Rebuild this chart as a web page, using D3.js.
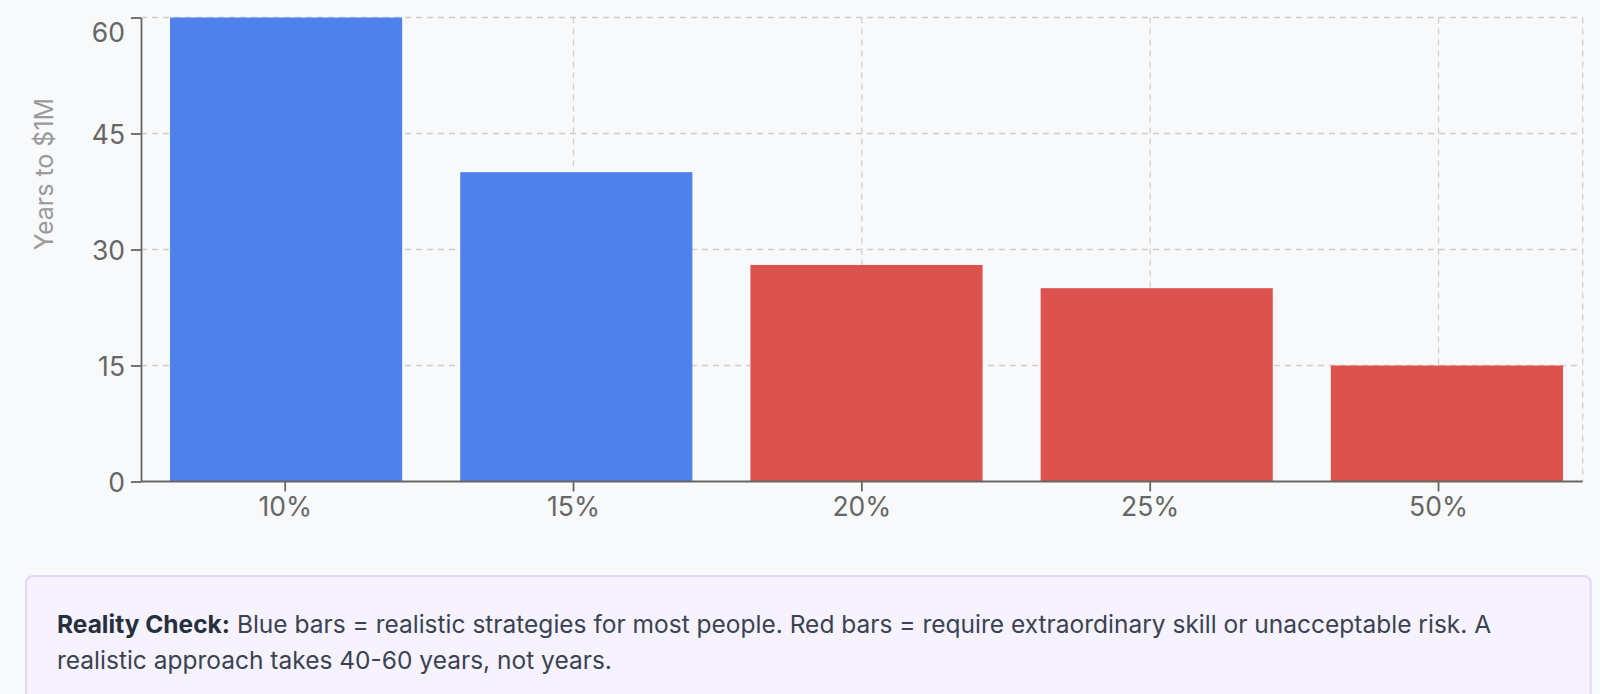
<!DOCTYPE html>
<html>
<head>
<meta charset="utf-8">
<script src="https://cdn.jsdelivr.net/npm/d3@7"></script>
<style>
  html, body { margin: 0; padding: 0; background: #f8f9fb; }
  svg { display: block; }
</style>
</head>
<body>
<svg id="chart" width="1600" height="694"></svg>
<script>
const categories = ["10%", "15%", "20%", "25%", "50%"];
const yearsToMillion = [60, 40, 28, 25, 15];
const realistic = [true, true, false, false, false];
const yTicks = [0, 15, 30, 45, 60];
const yLabel = "Years to $1M";
const noteBold = "Reality Check:";
const noteLine1 = " Blue bars = realistic strategies for most people. Red bars = require extraordinary skill or unacceptable risk. A";
const noteLine2 = "realistic approach takes 40-60 years, not years.";

(function () {
const svg = d3.select("#chart");
const pLeft = 141, pRight = 1582.7, bandRight = 1592, pTop = 17.5, pBottom = 481.5;

// bars use a slightly wider band range than the axis ticks (as in the reference)
const xBar = d3.scaleBand().domain(categories).range([pLeft, bandRight]).paddingInner(0.2).paddingOuter(0.1);
const xTick = d3.scaleBand().domain(categories).range([pLeft, pRight]).paddingInner(0.2).paddingOuter(0.1);
const y = d3.scaleLinear().domain([0, 60]).range([pBottom, pTop]);

const axisFont = "Inter, 'Liberation Sans', sans-serif";

// grid
const grid = svg.append("g").attr("stroke", "#cfcfcf").attr("stroke-width", 1.3).attr("stroke-dasharray", "6,5").attr("fill", "none");
yTicks.filter(t => t > 0).forEach(t => {
  grid.append("line").attr("x1", pLeft).attr("x2", pRight).attr("y1", y(t)).attr("y2", y(t));
});
categories.forEach(c => {
  const cx = xTick(c) + xTick.bandwidth() / 2;
  grid.append("line").attr("x1", cx).attr("x2", cx).attr("y1", pTop).attr("y2", pBottom);
});
grid.append("line").attr("x1", pRight).attr("x2", pRight).attr("y1", pTop).attr("y2", pBottom);

// bars
svg.append("g").selectAll("rect").data(categories).join("rect")
  .attr("x", c => xBar(c))
  .attr("width", xBar.bandwidth())
  .attr("y", (c, i) => y(yearsToMillion[i]))
  .attr("height", (c, i) => pBottom - y(yearsToMillion[i]))
  .attr("fill", (c, i) => realistic[i] ? "#4e81ec" : "#dc524f");

// y axis
const yAxis = svg.append("g").attr("transform", `translate(${pLeft},0)`)
  .call(d3.axisLeft(y).tickValues(yTicks).tickSize(10).tickSizeOuter(0).tickPadding(6));
yAxis.select(".domain").attr("stroke", "#666").attr("stroke-width", 1.8);
yAxis.selectAll(".tick line").attr("stroke", "#666").attr("stroke-width", 1.8);
yAxis.selectAll(".tick text")
  .attr("fill", "#666").attr("font-size", 26.5).attr("font-family", axisFont)
  .attr("dy", d => d === 60 ? "0.92em" : "0.36em");

// x axis
const xAxis = svg.append("g").attr("transform", `translate(0,${pBottom})`)
  .call(d3.axisBottom(xTick).tickSize(10).tickSizeOuter(0).tickPadding(6));
xAxis.select(".domain").remove();
xAxis.append("line").attr("x1", pLeft).attr("x2", pRight).attr("y1", 0).attr("y2", 0)
  .attr("stroke", "#666").attr("stroke-width", 1.8);
xAxis.selectAll(".tick line").attr("stroke", "#666").attr("stroke-width", 1.8);
xAxis.selectAll(".tick text")
  .attr("fill", "#666").attr("font-size", 26.5).attr("font-family", axisFont);

// y label
svg.append("text")
  .attr("transform", "translate(53,174) rotate(-90)")
  .attr("text-anchor", "middle")
  .attr("fill", "#999").attr("font-size", 25).attr("font-family", axisFont)
  .text(yLabel);

// note box
svg.append("rect")
  .attr("x", 26).attr("y", 576).attr("width", 1564.7).attr("height", 160)
  .attr("rx", 7).attr("fill", "#f6f3fe").attr("stroke", "#e3d8fb").attr("stroke-width", 2);

const noteFont = "Inter, Roboto, sans-serif";
const t1 = svg.append("text").attr("x", 57).attr("y", 632.7)
  .attr("font-size", 24.5).attr("font-family", noteFont).attr("fill", "#3b4252");
t1.append("tspan").attr("font-weight", "bold").attr("fill", "#262f3d").text(noteBold);
t1.append("tspan").text(noteLine1);
svg.append("text").attr("x", 57).attr("y", 668.5)
  .attr("font-size", 24.5).attr("font-family", noteFont).attr("fill", "#3b4252")
  .text(noteLine2);
})();
</script>
</body>
</html>
